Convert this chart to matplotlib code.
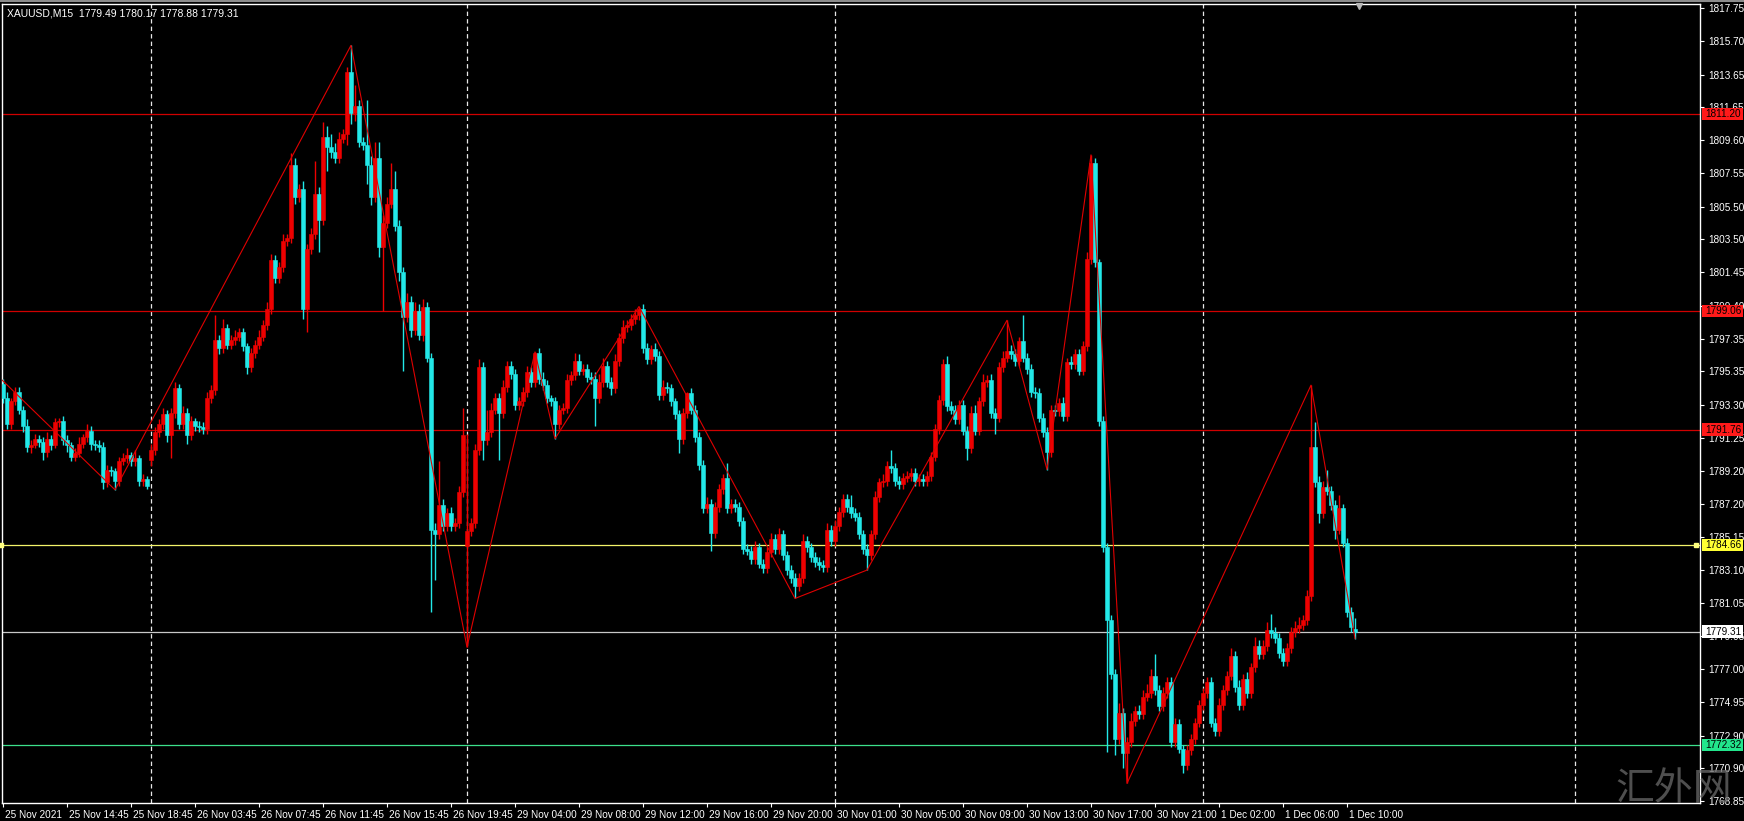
import matplotlib
matplotlib.use('Agg')
import matplotlib.pyplot as plt
import matplotlib.transforms as mtransforms
from matplotlib.patches import Rectangle
from matplotlib.lines import Line2D

# XAUUSD M15 closes, one per bar (bar 0 = 25 Nov 10:45)
closes = [
    1793.7, 1792.1, 1793.5, 1794.1, 1793.0, 1792.0, 1790.7, 1790.8, 1791.2, 1791.0,
    1790.4, 1791.2, 1790.8, 1792.2, 1792.3, 1791.1, 1790.8, 1790.1, 1790.3, 1790.9,
    1791.3, 1791.7, 1790.9, 1790.8, 1790.7, 1788.5, 1789.3, 1789.2, 1788.6, 1789.8,
    1790.0, 1790.2, 1789.8, 1790.0, 1788.6, 1788.7, 1788.3, 1790.5, 1791.6, 1792.1,
    1792.7, 1791.4, 1792.8, 1794.3, 1792.1, 1792.8, 1791.4, 1792.3, 1792.0, 1791.9,
    1791.8, 1793.7, 1794.2, 1797.3, 1796.8, 1798.0, 1797.0, 1797.3, 1797.5, 1797.75,
    1796.9, 1795.6, 1796.5, 1797.0, 1797.5, 1798.2, 1799.2, 1802.2, 1801.1, 1801.8,
    1803.4, 1803.55, 1808.1, 1806.1, 1806.6, 1799.2, 1802.9, 1803.8, 1806.3, 1804.7,
    1809.8, 1809.2, 1808.9, 1808.5, 1809.7, 1810.0, 1813.8, 1811.3, 1811.7, 1809.5,
    1809.3, 1808.1, 1806.1, 1808.5, 1803.0, 1804.5, 1805.7, 1806.6, 1804.3, 1801.5,
    1798.7, 1799.6, 1797.9, 1799.1, 1797.6, 1799.3, 1796.2, 1785.6, 1785.3, 1787.1,
    1785.8, 1786.6, 1785.8, 1786.0, 1787.9, 1791.4, 1785.5, 1786.0, 1790.5, 1795.6,
    1791.1, 1791.6, 1793.0, 1793.7, 1792.8, 1794.4, 1795.7, 1795.2, 1793.3, 1793.5,
    1794.1, 1795.3, 1794.7, 1796.5, 1794.9, 1794.5, 1793.7, 1793.5, 1792.1, 1793.0,
    1793.1, 1794.8, 1795.1, 1796.0, 1795.4, 1795.5, 1795.0, 1794.9, 1793.7, 1794.7,
    1795.7, 1794.7, 1794.3, 1796.0, 1797.4, 1798.1, 1798.2, 1798.6, 1798.8, 1799.2,
    1796.8, 1796.1, 1796.7, 1796.3, 1793.9, 1794.4, 1794.3, 1793.5, 1792.7, 1791.2,
    1792.8, 1794.0, 1793.0, 1791.3, 1789.6, 1786.9, 1787.2, 1785.4, 1787.0, 1788.1,
    1788.75, 1786.9, 1787.2, 1787.0, 1786.1, 1784.4, 1784.3, 1783.8, 1784.5, 1783.5,
    1783.2, 1784.2, 1785.0, 1784.4, 1785.3, 1784.0, 1783.1, 1782.6, 1782.1, 1782.6,
    1784.9, 1784.5, 1783.9, 1783.6, 1783.4, 1783.3, 1785.6, 1784.9, 1785.8, 1786.7,
    1787.5, 1787.0, 1786.6, 1786.4, 1785.3, 1784.4, 1784.0, 1785.3, 1787.6, 1788.5,
    1788.6, 1789.5, 1789.4, 1788.6, 1788.4, 1788.8, 1788.9, 1789.1, 1788.6, 1788.7,
    1788.6, 1788.9, 1790.1, 1791.8, 1793.6, 1795.8, 1793.2, 1793.0, 1792.4, 1793.3,
    1791.7, 1790.6, 1792.8, 1791.7, 1793.5, 1794.7, 1794.8, 1792.8, 1792.5, 1795.6,
    1796.2, 1796.6, 1796.4, 1796.0, 1797.2, 1796.2, 1795.5, 1794.1, 1794.0, 1792.5,
    1791.6, 1790.4, 1793.0, 1792.9, 1793.4, 1792.6, 1795.9, 1795.8, 1796.4, 1795.4,
    1796.9, 1802.3, 1808.2, 1802.1, 1792.3, 1784.5, 1780.0, 1776.7, 1772.7, 1774.3,
    1771.8, 1772.5, 1773.8, 1774.4, 1774.2, 1775.3, 1775.5, 1776.6, 1775.7, 1774.7,
    1775.5, 1776.2, 1772.5, 1773.6, 1772.1, 1771.1, 1772.0, 1772.7, 1773.7, 1774.8,
    1775.5, 1776.2, 1773.7, 1773.2, 1774.8, 1775.7, 1776.6, 1777.8, 1775.9, 1774.8,
    1776.4, 1775.5, 1777.1, 1778.4, 1777.9, 1778.4, 1779.4, 1779.2, 1778.9, 1778.0,
    1777.5, 1778.3, 1779.3, 1779.55, 1779.7, 1780.0, 1781.5, 1790.7, 1788.5, 1786.6,
    1788.2, 1788.0, 1787.1, 1785.6, 1786.9, 1784.8, 1780.5, 1779.6, 1779.31,
]

# bars whose open is not the previous close (session opens, first / last bar)
gap_opens = {0: 1794.6, 37: 1789.9, 116: 1784.6, 338: 1779.49}

# wick lengths above / below the body
wick_up = [
    0.3, 0.4, 0.2, 0.3, 0.3, 0.2, 0.4, 0.3, 0.3, 0.2,
    0.3, 0.4, 0.2, 0.3, 0.2, 0.3, 0.3, 0.2, 0.3, 0.4,
    0.2, 0.4, 0.3, 0.2, 0.3, 0.3, 0.3, 0.2, 0.2, 0.3,
    0.3, 0.4, 0.2, 0.5, 0.2, 0.3, 0.2, 0.4, 0.3, 0.3,
    0.4, 0.3, 0.3, 0.4, 0.3, 0.4, 0.3, 0.3, 0.2, 0.3,
    0.3, 0.4, 0.3, 1.5, 0.3, 0.6, 0.3, 0.3, 0.4, 0.3,
    0.3, 0.2, 0.3, 0.3, 0.4, 0.3, 0.4, 0.4, 0.3, 0.3,
    0.4, 0.3, 0.7, 0.4, 0.3, 0.5, 0.3, 0.4, 2.0, 0.4,
    0.9, 0.7, 0.8, 0.5, 0.4, 0.3, 0.3, 1.65, 1.3, 0.4,
    0.3, 2.8, 0.5, 1.0, 1.0, 0.5, 0.4, 1.6, 1.1, 0.4,
    0.3, 0.6, 0.4, 0.5, 0.4, 0.5, 0.3, 0.3, 0.4, 2.7,
    0.4, 0.3, 0.4, 0.3, 0.4, 1.7, 6.0, 0.3, 0.4, 0.5,
    0.3, 1.4, 0.4, 0.3, 0.3, 0.4, 0.3, 0.3, 0.3, 0.3,
    0.3, 0.4, 0.3, 0.05, 0.3, 0.4, 0.3, 0.2, 0.3, 0.3,
    0.3, 0.4, 0.3, 0.5, 0.4, 0.3, 0.3, 0.3, 0.4, 0.5,
    0.5, 0.3, 0.3, 0.4, 0.3, 0.4, 0.3, 0.3, 0.4, 0.15,
    0.3, 0.3, 0.3, 0.4, 0.3, 0.4, 0.3, 0.3, 0.2, 0.3,
    0.3, 0.1, 0.3, 0.3, 0.3, 0.3, 0.4, 0.3, 0.3, 0.3,
    0.3, 0.95, 0.3, 0.3, 0.3, 0.3, 0.3, 0.3, 0.4, 0.3,
    0.3, 0.3, 0.4, 0.3, 0.4, 0.3, 0.3, 0.3, 0.3, 0.3,
    0.4, 0.3, 0.3, 0.3, 0.3, 0.3, 0.4, 0.3, 0.4, 0.3,
    0.3, 0.3, 0.7, 0.3, 0.3, 0.3, 0.3, 0.3, 0.4, 0.3,
    0.4, 0.3, 1.0, 0.3, 0.3, 0.3, 0.3, 0.3, 0.3, 0.3,
    0.3, 0.3, 0.3, 0.3, 0.3, 0.3, 0.5, 0.3, 0.3, 0.3,
    0.3, 0.3, 0.4, 0.5, 0.3, 0.5, 0.3, 0.4, 0.3, 0.3,
    0.4, 1.9, 0.4, 0.3, 0.3, 1.6, 0.3, 0.3, 0.3, 0.3,
    0.3, 0.3, 0.3, 0.3, 0.3, 0.4, 0.3, 0.4, 0.3, 0.3,
    0.3, 0.4, 0.5, 0.3, 0.2, 0.3, 0.3, 0.3, 0.3, 0.6,
    0.3, 0.3, 0.5, 0.3, 0.4, 0.4, 0.6, 0.4, 1.3, 0.3,
    0.4, 0.3, 0.3, 0.4, 0.3, 0.2, 0.3, 0.3, 0.3, 0.3,
    0.3, 0.3, 0.3, 0.3, 0.4, 0.3, 0.3, 0.5, 0.3, 0.4,
    0.3, 0.4, 0.3, 0.6, 0.4, 0.4, 0.5, 1.0, 0.4, 0.3,
    0.3, 0.3, 0.3, 0.4, 0.5, 0.3, 0.4, 3.8, 1.5, 0.4,
    0.4, 1.1, 0.3, 0.3, 0.8, 0.3, 0.3, 0.3, 0.68,
]
wick_dn = [
    0.3, 0.3, 0.3, 0.2, 0.3, 0.4, 0.3, 0.4, 0.2, 0.3,
    0.5, 0.3, 0.3, 0.2, 0.3, 0.3, 0.4, 0.3, 0.3, 0.2,
    0.3, 0.3, 0.4, 0.3, 0.3, 0.4, 0.3, 0.3, 0.55, 0.3,
    0.2, 0.3, 0.3, 0.3, 0.3, 0.3, 0.2, 0.4, 0.3, 0.3,
    0.3, 0.4, 1.4, 0.3, 0.3, 0.3, 0.5, 0.3, 0.3, 0.3,
    0.3, 0.3, 0.3, 0.3, 0.4, 0.3, 0.3, 0.3, 0.3, 0.3,
    0.3, 0.4, 0.3, 0.3, 0.3, 0.3, 0.3, 0.3, 0.3, 0.3,
    0.3, 0.3, 0.3, 0.4, 0.3, 0.6, 1.4, 0.3, 0.3, 2.0,
    0.3, 1.5, 0.4, 0.3, 0.3, 0.3, 0.7, 0.7, 0.5, 0.3,
    0.3, 1.2, 0.5, 0.3, 0.6, 3.9, 0.3, 0.3, 0.3, 0.6,
    3.3, 0.3, 0.4, 0.3, 0.3, 0.4, 0.3, 5.1, 2.8, 0.3,
    0.3, 0.3, 0.3, 0.3, 0.3, 0.3, 6.25, 0.3, 0.3, 0.3,
    1.2, 0.3, 0.3, 0.3, 2.9, 0.3, 0.3, 0.3, 0.3, 0.3,
    0.3, 0.3, 0.3, 0.3, 0.3, 0.3, 0.3, 0.3, 0.9, 0.3,
    0.3, 0.3, 0.3, 0.3, 0.3, 0.3, 0.3, 0.3, 1.7, 0.3,
    0.3, 0.3, 0.4, 0.3, 0.3, 0.3, 0.3, 0.3, 0.3, 0.3,
    0.3, 0.3, 0.3, 0.3, 0.3, 0.3, 0.3, 0.3, 0.3, 0.9,
    0.3, 0.3, 0.3, 0.3, 0.3, 0.3, 0.3, 1.1, 0.3, 0.3,
    0.3, 0.3, 0.3, 0.3, 0.3, 0.3, 0.3, 0.3, 0.3, 0.3,
    0.3, 0.3, 0.3, 0.3, 0.3, 0.3, 0.3, 0.3, 0.75, 0.3,
    0.3, 0.3, 0.3, 0.3, 0.3, 0.3, 0.3, 0.3, 0.3, 0.3,
    0.3, 0.3, 0.3, 0.3, 0.3, 0.3, 0.9, 0.3, 0.3, 0.3,
    0.3, 0.3, 0.3, 0.3, 0.3, 0.3, 0.3, 0.3, 0.3, 0.3,
    0.3, 0.3, 0.3, 0.3, 0.3, 0.3, 0.3, 0.3, 0.3, 0.3,
    0.3, 0.7, 0.3, 0.3, 0.3, 0.3, 0.3, 0.3, 1.0, 0.3,
    0.3, 0.3, 0.3, 0.3, 0.3, 0.3, 0.3, 0.3, 0.3, 0.3,
    0.3, 1.1, 0.3, 0.3, 0.3, 0.3, 0.3, 0.3, 0.3, 0.3,
    0.3, 0.3, 0.3, 0.3, 0.3, 0.3, 8.1, 0.3, 1.0, 0.3,
    0.9, 1.85, 0.3, 0.3, 0.3, 0.3, 0.3, 0.3, 0.3, 0.3,
    0.3, 0.3, 0.3, 0.3, 0.3, 0.5, 0.3, 0.3, 0.3, 0.3,
    0.3, 0.3, 0.3, 0.3, 0.3, 0.3, 0.3, 0.3, 0.3, 0.3,
    0.3, 0.3, 0.3, 0.3, 0.3, 0.3, 0.3, 0.3, 0.3, 0.3,
    0.3, 0.3, 0.3, 0.3, 0.3, 0.3, 0.3, 0.3, 0.3, 0.6,
    0.3, 0.3, 0.3, 0.6, 0.3, 0.3, 0.3, 0.3, 0.43,
]

# zigzag pivots (bar index, price)
zz_bars = [-1, 28, 87, 116, 133, 138, 159, 198, 216, 251, 261, 272, 281, 327, 338]
zz_prices = [1795.0, 1788.05, 1815.45, 1778.35, 1796.55, 1791.2, 1799.35, 1781.35,
             1783.1, 1798.5, 1789.3, 1808.7, 1769.95, 1794.5, 1778.88]

# horizontal levels
levels = [1811.20, 1799.06, 1791.76, 1784.66, 1779.31, 1772.32]
level_colors = ['#d00000', '#d00000', '#d00000', '#f4f46a', '#c8c8c8', '#3ce08c']
box_colors = ['#ff1a1a', '#ff1a1a', '#ff1a1a', '#ffff33', '#ffffff', '#22e58c']

# day separators (bar index)
separators = [37, 116, 208, 300, 393]

price_ticks = [1817.75, 1815.70, 1813.65, 1811.65, 1809.60, 1807.55, 1805.50, 1803.50,
               1801.45, 1799.40, 1797.35, 1795.35, 1793.30, 1791.25, 1789.20, 1787.20,
               1785.15, 1783.10, 1781.05, 1779.05, 1777.00, 1774.95, 1772.90, 1770.90,
               1768.85]
time_labels = ['25 Nov 2021', '25 Nov 14:45', '25 Nov 18:45', '26 Nov 03:45', '26 Nov 07:45',
               '26 Nov 11:45', '26 Nov 15:45', '26 Nov 19:45', '29 Nov 04:00', '29 Nov 08:00',
               '29 Nov 12:00', '29 Nov 16:00', '29 Nov 20:00', '30 Nov 01:00', '30 Nov 05:00',
               '30 Nov 09:00', '30 Nov 13:00', '30 Nov 17:00', '30 Nov 21:00', '1 Dec 02:00',
               '1 Dec 06:00', '1 Dec 10:00']
time_ticks = list(range(0, 16 * len(time_labels), 16))

UP = '#ee0000'
DOWN = '#22e8e8'
W, H = 1744, 821
FS = 7.2

plt.rcParams['font.family'] = ['Liberation Sans', 'DejaVu Sans']

fig = plt.figure(figsize=(W / 100, H / 100), dpi=100, facecolor='black')
ax = fig.add_axes([2 / W, 18 / H, 1698 / W, 799 / H], facecolor='black')

# candles
opens = []
for i, c in enumerate(closes):
    opens.append(gap_opens[i] if i in gap_opens else closes[i - 1])
xs = list(range(len(closes)))
cols, bottoms, heights, highs, lows = [], [], [], [], []
for o, c, u, d in zip(opens, closes, wick_up, wick_dn):
    cols.append(UP if c >= o else DOWN)
    bottoms.append(min(o, c))
    heights.append(max(abs(c - o), 0.05))
    highs.append(max(o, c) + u)
    lows.append(min(o, c) - d)

ax.vlines(xs, lows, highs, colors=cols, lw=1.0, zorder=3)
ax.bar(xs, heights, bottom=bottoms, width=0.78, color=cols, edgecolor=cols,
       linewidth=0.4, zorder=3)

# zigzag
ax.plot(zz_bars, zz_prices, color='#e00000', lw=0.8, zorder=4)

# levels
for lvl, lc in zip(levels, level_colors):
    ax.axhline(lvl, color=lc, lw=0.9, zorder=2)
ax.plot([-0.4, 423.2], [levels[3], levels[3]], 's', ms=3.5, color='#ffff80',
        zorder=5, clip_on=False)

# separators
for s in separators:
    ax.axvline(s, color='#e8e8e8', lw=0.9, ls=(0, (3.5, 2.5)), zorder=1)

ax.set_xlim(-0.25, 424.25)
ax.set_ylim(1768.74, 1818.0)

for sp in ax.spines.values():
    sp.set_color('white')
    sp.set_linewidth(1.0)

ax.yaxis.tick_right()
ax.set_yticks(price_ticks)
ax.set_yticklabels(['%.2f' % p for p in price_ticks])
ax.tick_params(axis='y', colors='white', labelcolor='white', length=3, width=0.8,
               labelsize=FS, pad=3)
ax.set_xticks(time_ticks)
ax.set_xticklabels(time_labels)
ax.tick_params(axis='x', colors='white', labelcolor='white', length=3, width=0.8,
               labelsize=FS, pad=2)
offset = mtransforms.ScaledTranslation(2 / 100, 0, fig.dpi_scale_trans)
for lab in ax.get_xticklabels():
    lab.set_horizontalalignment('left')
    lab.set_transform(lab.get_transform() + offset)

# price boxes on the right axis
trans = mtransforms.blended_transform_factory(fig.transFigure, ax.transData)
for lvl, bc in zip(levels, box_colors):
    ax.add_patch(Rectangle((1702 / W, lvl - 0.38), 41 / W, 0.76, transform=trans,
                           facecolor=bc, edgecolor='none', clip_on=False, zorder=6))
    ax.text(1705 / W, lvl, '%.2f' % lvl, transform=trans, fontsize=FS, color='black',
            va='center', ha='left', zorder=7, clip_on=False)

# header and shift marker
fig.text(7 / W, 1 - 13 / H, 'XAUUSD,M15  1779.49 1780.17 1778.88 1779.31',
         fontsize=FS + 0.3, color='white', va='center', ha='left')
ax.plot([339], [1817.9], marker='v', ms=5, color='#b8b8b8', clip_on=False, zorder=6)
fig.add_artist(Line2D([0, 1], [1 - 1 / H, 1 - 1 / H], transform=fig.transFigure,
                      color='#8c8c8c', lw=1.5))

# watermark
fig.text(1674 / W, 1 - 789 / H, '汇外网', fontsize=28, color='#6a6a6a', alpha=0.75,
         ha='center', va='center', family=['Noto Sans CJK SC', 'DejaVu Sans'], zorder=10)

fig.savefig('out.png', dpi=100, facecolor='black')
